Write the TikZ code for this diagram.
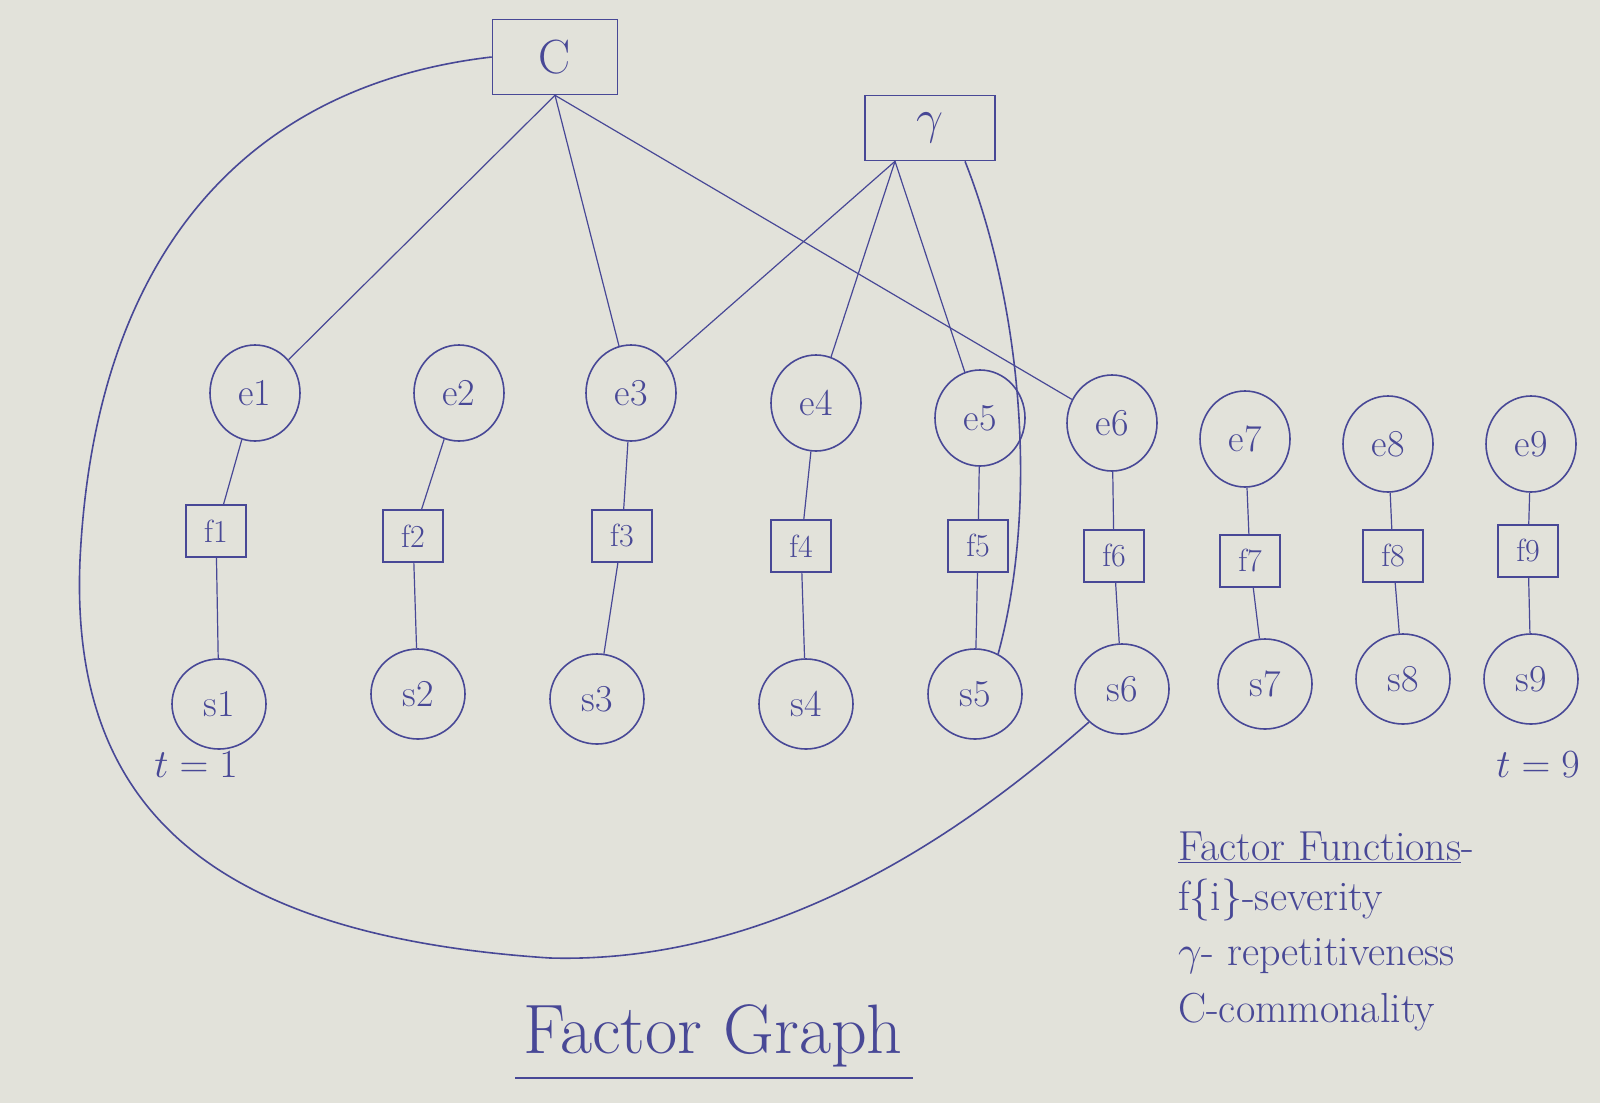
\RequirePackage{fix-cm}
\documentclass[tikz,border=0pt]{standalone}
\usetikzlibrary{calc,shapes.geometric}
\definecolor{ink}{RGB}{72,72,150}
\definecolor{paper}{RGB}{226,226,218}
\tikzset{
  var/.style={ellipse,draw=ink,line width=1.6pt,minimum width=90pt,minimum height=96pt,inner sep=0pt,text=ink,font=\fontsize{38}{42}\selectfont},
  fac/.style={rectangle,draw=ink,line width=1.6pt,minimum width=60pt,minimum height=52pt,inner sep=2pt,text=ink,font=\fontsize{32}{36}\selectfont},
  bigfac/.style={rectangle,draw=ink,line width=1.6pt,inner sep=0pt,text=ink,font=\fontsize{48}{52}\selectfont},
  edge/.style={draw=ink,line width=1.2pt},
  lbl/.style={text=ink,font=\fontsize{40}{44}\selectfont,inner sep=0pt},
}
\begin{document}
\begin{tikzpicture}[x=1pt,y=-1pt]
\fill[paper] (0,0) rectangle (1600,1103);
\useasboundingbox (0,0) rectangle (1600,1103);

\node[bigfac,minimum width=125pt,minimum height=75pt] (C) at (555,57) {C};
\node[bigfac,minimum width=130pt,minimum height=65pt] (g) at (930,128) {$\gamma$};

\foreach \i/\x/\y in {1/255/393,2/459/393,3/631/393,4/816/403,5/980/418,6/1112/423,7/1245/439,8/1388/444,9/1531/444}
  \node[var] (e\i) at (\x,\y) {e\i};
\foreach \i/\x/\y in {1/216/531,2/413/536,3/622/536,4/801/546,5/978/546,6/1114/556,7/1250/561,8/1393/556,9/1528/551}
  \node[fac] (f\i) at (\x,\y) {f\i};
\foreach \i/\x/\y in {1/219/704,2/418/694,3/597/699,4/806/704,5/975/694,6/1122/689,7/1265/684,8/1403/679,9/1531/679}
  \node[var,minimum height=90pt,minimum width=94pt] (s\i) at (\x,\y) {s\i};

\foreach \i in {1,...,9} {
  \draw[edge] (e\i) -- (f\i);
  \draw[edge] (f\i) -- (s\i);
}

% commonality factor
\draw[edge] (C.south) -- (e1);
\draw[edge] (C.south) -- (e3);
\draw[edge] (C.south) -- (e6);
\draw[edge,line width=1.6pt] (C.west) .. controls (250,85) and (95,250) .. (80,560)
   .. controls (70,800) and (200,935) .. (550,958)
   .. controls (800,965) and (1000,800) .. (s6.225);

% repetitiveness factor
\coordinate (gs) at ($(g.south)+(-35,0)$);
\draw[edge] (gs) -- (e3);
\draw[edge] (gs) -- (e4);
\draw[edge] (gs) -- (e5);
\draw[edge,line width=1.6pt] ($(g.south)+(35,0)$) .. controls (1020,300) and (1040,500) .. (s5.60);

\node[lbl] (t1) at (196,765) {$t=1$};
\node[lbl] (t9) at (1538,765) {$t=9$};

\node[lbl,anchor=west,font=\fontsize{42}{46}\selectfont] (leg0) at (1178,847) {\underline{Factor Functions}-};
\node[lbl,anchor=west,font=\fontsize{42}{46}\selectfont] (leg1) at (1178,900) {f\{i\}-severity};
\node[lbl,anchor=west,font=\fontsize{42}{46}\selectfont] (leg2) at (1178,956) {$\gamma$- repetitiveness};
\node[lbl,anchor=west,font=\fontsize{42}{46}\selectfont] (leg3) at (1178,1012) {C-commonality};

\node[lbl,font=\fontsize{70}{74}\selectfont] (title) at (713,1036) {Factor Graph};
\draw[edge,line width=1.6pt] (515,1078) -- (913,1078);
\end{tikzpicture}
\end{document}
